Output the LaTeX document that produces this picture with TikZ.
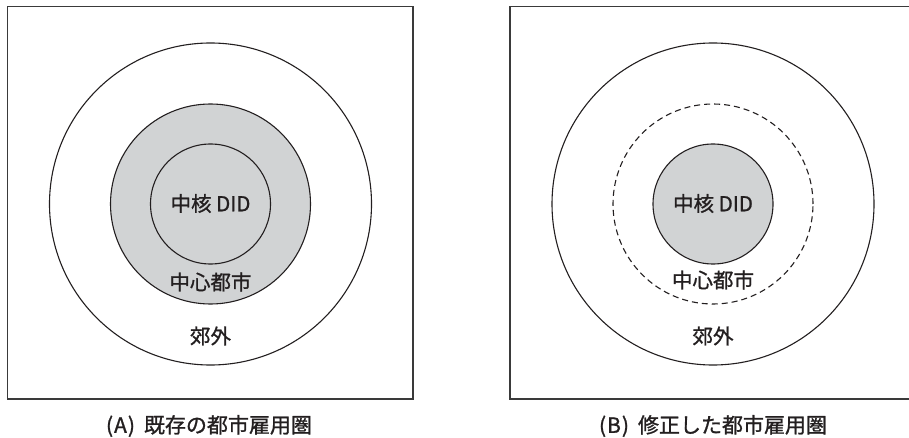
\documentclass[tikz,border=0pt]{standalone}
\usepackage{fontspec}
\newfontfamily\jp{Noto Sans CJK JP}[FakeBold=1.1]
\definecolor{ink}{HTML}{231F20}
\definecolor{zone}{HTML}{D1D3D4}
\definecolor{frame}{HTML}{3A3A3A}
\begin{document}
\begin{tikzpicture}[x=1pt,y=-1pt,
  ring/.style={circle,draw=ink,line width=1.1pt,inner sep=0pt,outer sep=0pt,minimum size=#1},
  panel/.style={draw=frame,line width=1.4pt},
  lbl/.style={inner sep=0pt,text=ink,font=\jp\fontsize{20.5}{21}\selectfont},
  captxt/.style={inner sep=0pt,text=ink,font=\jp\fontsize{21}{22}\selectfont}]
\useasboundingbox (0,0) rectangle (909,438);
\clip (0,0) rectangle (909,438);
\fill[white] (0,0) rectangle (909,438);
% panels
\draw[panel] (7.5,6.8) rectangle (413,398.8);
\draw[panel] (510,6.8) rectangle (916,398.8);
% left panel
\node[ring=322pt] (aOuter) at (210.5,204) {};
\node[ring=200pt,fill=zone] (aCity) at (210.5,204) {};
\node[ring=120pt,fill=zone] (aCore) at (210.5,204) {};
\node[lbl] (aCoreL) at (210.5,203.5) {中核 DID};
\node[lbl] (aCityL) at (210.5,282) {中心都市};
\node[lbl] (aSubL) at (210.5,336) {郊外};
% right panel
\node[ring=322pt] (bOuter) at (713,204) {};
\node[ring=200pt,dash pattern=on 6pt off 4pt] (bCity) at (713,204) {};
\node[ring=120pt,fill=zone] (bCore) at (713,204) {};
\node[lbl] (bCoreL) at (713,203.5) {中核 DID};
\node[lbl] (bCityL) at (713,280) {中心都市};
\node[lbl] (bSubL) at (713,336) {郊外};
% captions
\node[captxt] (capA) at (209,426) {(\kern1pt A\kern1pt)\hspace{9pt}既存の都市雇用圏};
\node[captxt] (capB) at (713,426) {(\kern1pt B\kern1pt)\hspace{9pt}修正した都市雇用圏};
\end{tikzpicture}
\end{document}
